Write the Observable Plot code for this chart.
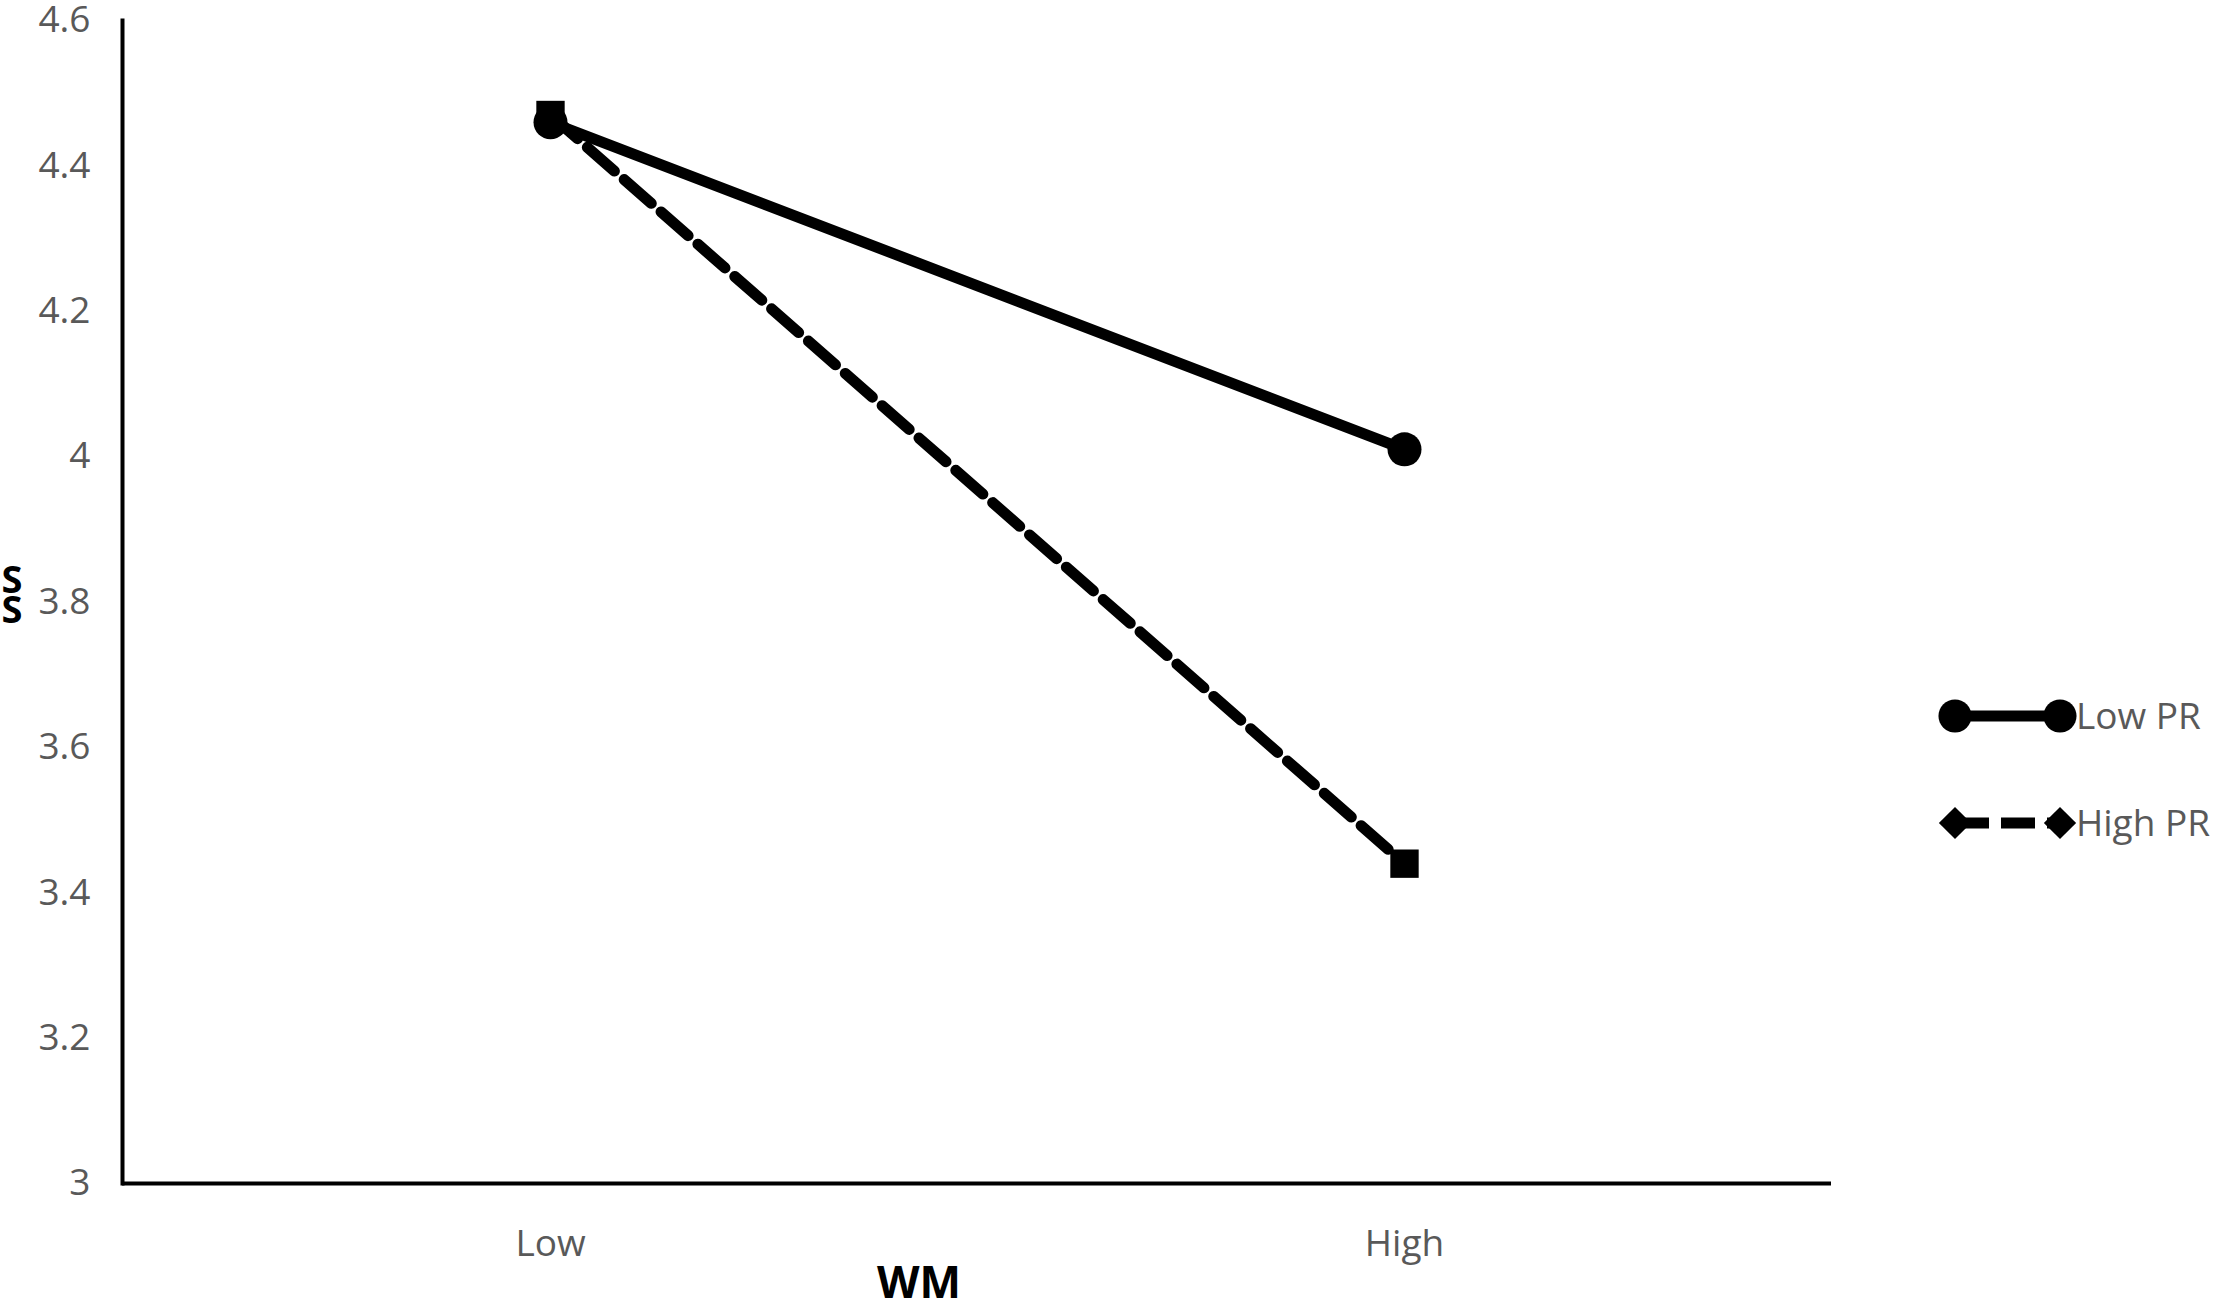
<!DOCTYPE html>
<html>
<head>
<meta charset="utf-8">
<script src="https://cdn.jsdelivr.net/npm/d3@7"></script>
<script src="https://cdn.jsdelivr.net/npm/@observablehq/plot@0.6"></script>
<style>
  html, body { margin: 0; padding: 0; background: #fff; }
  #wrap { position: relative; width: 2217px; height: 1308px; overflow: hidden; font-family: "Open Sans", Lato, sans-serif; }
  #wrap > svg { position: absolute; left: 0; top: 0; }
</style>
</head>
<body>
<div id="wrap"></div>
<script>
// ---- data ----
const categories = ["Low", "High"];
const seriesNames = ["Low PR", "High PR"];
const lowPR = [4.46, 4.01];
const highPR = [4.47, 3.44];
const yTicks = [3, 3.2, 3.4, 3.6, 3.8, 4, 4.2, 4.4, 4.6];
const xLabel = "WM";
const yLabel = "SS";

const rows = [];
categories.forEach((c, i) => {
  rows.push({ wm: c, value: lowPR[i], series: seriesNames[0] });
  rows.push({ wm: c, value: highPR[i], series: seriesNames[1] });
});
const lowRows = rows.filter(d => d.series === seriesNames[0]);
const highRows = rows.filter(d => d.series === seriesNames[1]);

const W = 2217, H = 1308;
const tickColor = "#595959";
const font = "'Open Sans', Lato, sans-serif";

const chart = Plot.plot({
  width: W,
  height: H,
  marginLeft: 122,
  marginRight: 386,
  marginTop: 20,
  marginBottom: 125,
  style: { fontFamily: font, background: "transparent", overflow: "visible" },
  x: { type: "point", domain: categories, padding: 0.5 },
  y: { domain: [3, 4.6] },
  marks: [
    Plot.axisY({ ticks: yTicks, tickSize: 0, tickPadding: 32, fontSize: 37, color: tickColor, label: null,
                 tickFormat: d => String(+d.toFixed(1)) }),
    Plot.axisX({ tickSize: 0, tickPadding: 46, fontSize: 37, color: tickColor, label: null }),
    Plot.frame({ anchor: "left", stroke: "black", strokeWidth: 4 }),
    Plot.ruleY([3], { stroke: "black", strokeWidth: 4 }),
    Plot.line(lowRows, { x: "wm", y: "value", stroke: "black", strokeWidth: 11 }),
    Plot.line(highRows, { x: "wm", y: "value", stroke: "black", strokeWidth: 11, strokeDasharray: "36,13" }),
    Plot.dot(highRows, { x: "wm", y: "value", symbol: "square", r: 16, fill: "black" }),
    Plot.dot(lowRows, { x: "wm", y: "value", symbol: "circle", r: 17, fill: "black" })
  ]
});
document.getElementById("wrap").appendChild(chart);

// ---- overlay: axis titles + legend ----
const ov = d3.select("#wrap").append("svg")
  .attr("width", W).attr("height", H)
  .style("font-family", font);

// x axis title
ov.append("text").attr("x", 919).attr("y", 1298)
  .attr("text-anchor", "middle").attr("font-weight", "bold")
  .attr("font-size", 44).attr("fill", "black").text(xLabel);

// y axis title (stacked)
yLabel.split("").forEach((ch, i) => {
  ov.append("text").attr("x", 12).attr("y", 593 + i * 30)
    .attr("text-anchor", "middle").attr("font-weight", "bold")
    .attr("font-size", 38).attr("fill", "black").text(ch);
});

// legend
const legendItems = [
  { name: seriesNames[0], y: 716, dash: null, kind: "circle" },
  { name: seriesNames[1], y: 823, dash: "34,12", kind: "diamond" }
];
legendItems.forEach(it => {
  const g = ov.append("g");
  g.append("line").attr("x1", 1955).attr("x2", 2060).attr("y1", it.y).attr("y2", it.y)
    .attr("stroke", "black").attr("stroke-width", 11)
    .attr("stroke-dasharray", it.dash);
  [1955, 2060].forEach(cx => {
    if (it.kind === "circle") {
      g.append("path").attr("d", d3.symbol(d3.symbolCircle, 860)())
        .attr("transform", `translate(${cx},${it.y})`).attr("fill", "black");
    } else {
      g.append("path").attr("d", d3.symbol(d3.symbolSquare, 520)())
        .attr("transform", `translate(${cx},${it.y}) rotate(45)`).attr("fill", "black");
    }
  });
  g.append("text").attr("x", 2076).attr("y", it.y).attr("dy", "0.35em")
    .attr("font-size", 37).attr("fill", tickColor).text(it.name);
});
</script>
</body>
</html>
